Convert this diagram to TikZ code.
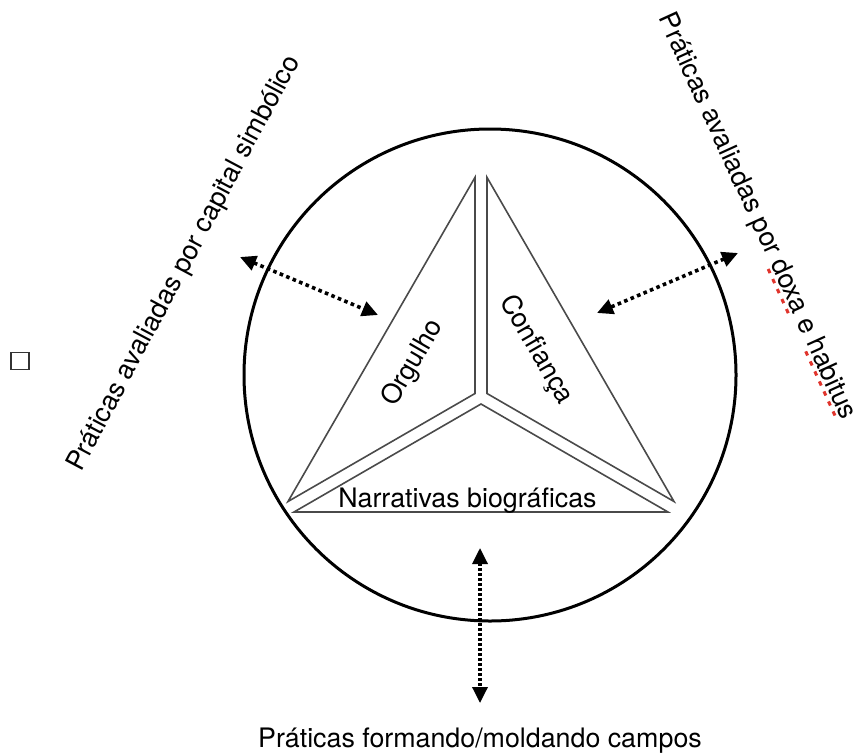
\documentclass[tikz,border=0pt]{standalone}
\usepackage{fontspec}
\setmainfont{TeX Gyre Heros}
\usetikzlibrary{arrows.meta}
\definecolor{spellred}{HTML}{E0342C}
\definecolor{edgegray}{HTML}{4A4A4A}

% red dashed spell-check mark under a word
\newsavebox\sqbox
\newcommand\spellmark[1]{\sbox\sqbox{#1}\leavevmode\rlap{\raisebox{-5.5pt}{\color{spellred}\hbox to \wd\sqbox{\cleaders\hbox to 11pt{\hss\vrule width 4.5pt height 3pt depth 0pt\hss}\hfill}}}\usebox\sqbox}

\begin{document}
\begin{tikzpicture}[x=1pt,y=-1pt,
  font=\fontsize{26.8}{32}\selectfont,
  piece/.style={draw=edgegray, line width=1.6pt, line join=miter},
  ring/.style={draw=black, line width=3pt, circle, inner sep=0pt, minimum size=492pt},
  dotarrow/.style={{Triangle[length=16pt,width=15pt]}-{Triangle[length=16pt,width=15pt]},
    line width=3.6pt, dash pattern=on 3.6pt off 3.4pt},
  dotarrowv/.style={{Triangle[length=16pt,width=15pt]}-{Triangle[length=16pt,width=15pt]},
    line width=3.4pt, dash pattern=on 2.8pt off 2.2pt},
  lbl/.style={inner sep=1pt, text=black}]
\useasboundingbox (0,0) rectangle (856,755);

% outer circle
\node[ring] (ring) at (490,375) {};

% the triangle, split into three pieces around its centre
\draw[piece] (475,177.4) -- (288,501.5) -- (475,393.5) -- cycle;
\draw[piece] (487,177.4) -- (674,501.5) -- (487,393.5) -- cycle;
\draw[piece] (294,512) -- (668,512) -- (481,404) -- cycle;

% labels inside the triangle
\node[lbl, rotate=60] (orgulho) at (413,363) {Orgulho};
\node[lbl, rotate=-60] (confianca) at (536,350) {Confiança};
\node[lbl, anchor=base] (narrativas) at (467.5,507) {Narrativas biográficas};

% outer labels
\node[lbl, anchor=base, rotate=62] (capital) at (190.6,267) {Práticas avaliadas por capital simbólico};
\node[lbl, anchor=base, rotate=-65.5] (doxa) at (750,219.5) {Práticas avaliadas por \spellmark{doxa} e \spellmark{habitus}};
\node[lbl, anchor=base] (campos) at (480,747) {Práticas formando/moldando campos};

% small empty box at the left margin
\node[draw=black!80, line width=1.4pt, minimum width=18pt, minimum height=17.5pt, inner sep=0pt] (mark) at (20,361) {};

% dotted double-headed arrows
\coordinate (capEnd) at (240,257);
\coordinate (capIn) at (378,315);
\coordinate (doxaEnd) at (738,253);
\coordinate (doxaIn) at (597,313);
\coordinate (camIn) at (480,548);
\coordinate (camEnd) at (480,703);
\draw[dotarrow] (capEnd) -- (capIn);
\draw[dotarrow] (doxaEnd) -- (doxaIn);
\draw[dotarrowv] (camIn) -- (camEnd);
\end{tikzpicture}
\end{document}
